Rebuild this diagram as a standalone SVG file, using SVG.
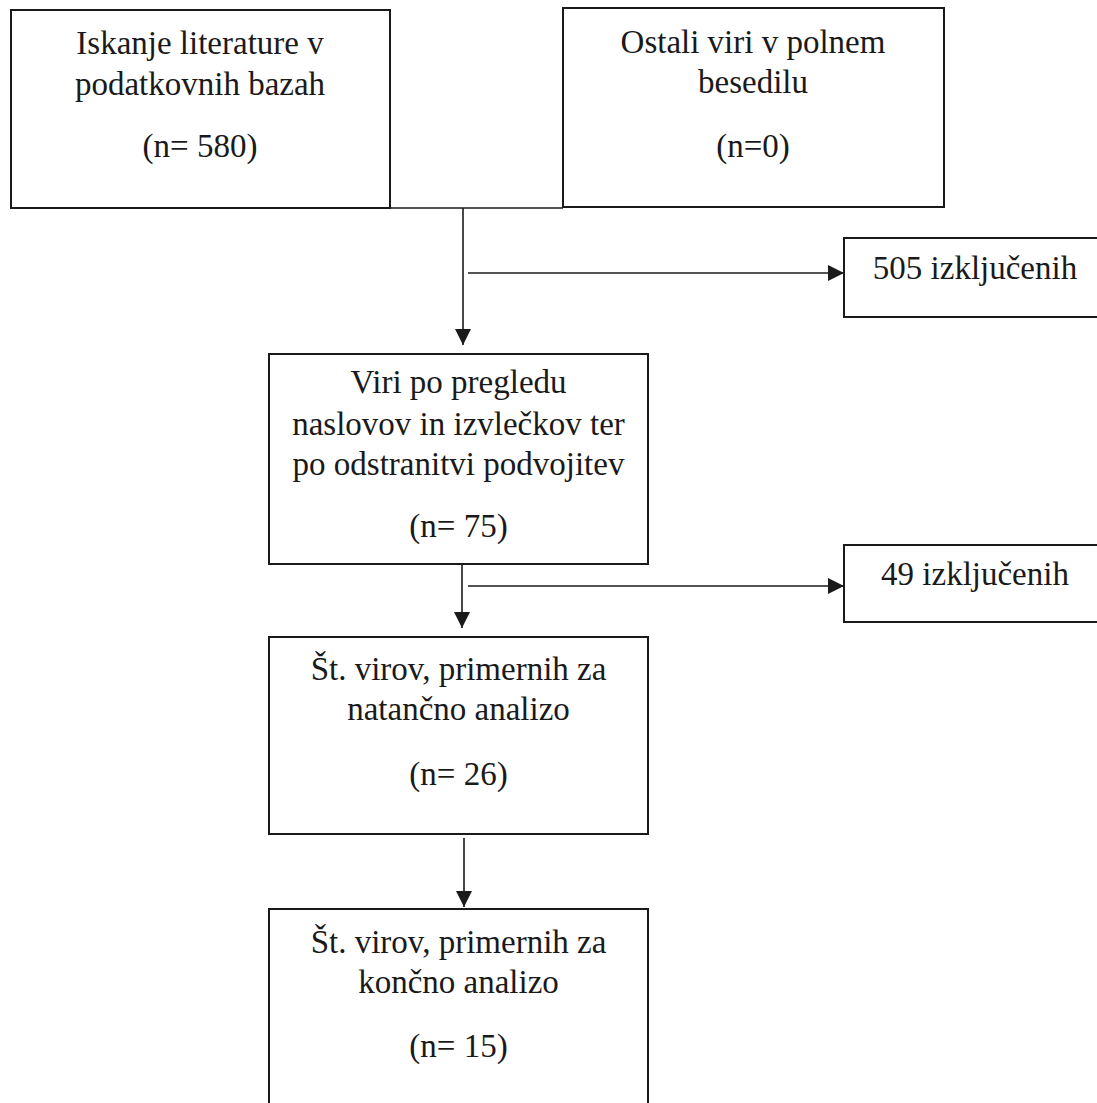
<svg xmlns="http://www.w3.org/2000/svg" width="1097" height="1103" viewBox="0 0 1097 1103">
  <style>
    .box { fill: #ffffff; stroke: #1a1a1a; stroke-width: 2; }
    .con { fill: none; stroke: #1a1a1a; stroke-width: 1.6; }
    text { font-family: "Liberation Serif", "Times New Roman", serif; font-size: 33px; fill: #1a1a1a; text-anchor: middle; }
  </style>
  <defs>
    <marker id="arrow" markerUnits="userSpaceOnUse" markerWidth="16" markerHeight="16" refX="16" refY="8" orient="auto">
      <path d="M0,0 L16,8 L0,16 Z" fill="#1a1a1a"/>
    </marker>
  </defs>
  <rect width="1097" height="1103" fill="#ffffff"/>

  <g id="connectors">
    <line class="con" x1="390" y1="208" x2="563" y2="208"/>
    <line class="con" x1="463" y1="208" x2="463" y2="345" marker-end="url(#arrow)"/>
    <line class="con" x1="468" y1="273" x2="844" y2="273" marker-end="url(#arrow)"/>
    <line class="con" x1="462" y1="552" x2="462" y2="628" marker-end="url(#arrow)"/>
    <line class="con" x1="468" y1="586" x2="844" y2="586" marker-end="url(#arrow)"/>
    <line class="con" x1="464" y1="838" x2="464" y2="907" marker-end="url(#arrow)"/>
  </g>

  <g id="node-search">
    <rect class="box" x="11" y="10" width="379" height="198"/>
    <text x="200" y="54">Iskanje literature v</text>
    <text x="200" y="95">podatkovnih bazah</text>
    <text x="200" y="157">(n= 580)</text>
  </g>

  <g id="node-other">
    <rect class="box" x="563" y="8" width="381" height="199"/>
    <text x="753" y="53">Ostali viri v polnem</text>
    <text x="753" y="93">besedilu</text>
    <text x="753" y="157">(n=0)</text>
  </g>

  <g id="node-excluded-505">
    <rect class="box" x="844" y="238" width="270" height="79"/>
    <text x="975" y="279">505 izključenih</text>
  </g>

  <g id="node-screened">
    <rect class="box" x="269" y="354" width="379" height="210"/>
    <text x="458.5" y="393">Viri po pregledu</text>
    <text x="458.5" y="435">naslovov in izvlečkov ter</text>
    <text x="458.5" y="475">po odstranitvi podvojitev</text>
    <text x="458.5" y="537">(n= 75)</text>
  </g>

  <g id="node-excluded-49">
    <rect class="box" x="844" y="545" width="270" height="77"/>
    <text x="975" y="585">49 izključenih</text>
  </g>

  <g id="node-detailed">
    <rect class="box" x="269" y="637" width="379" height="197"/>
    <text x="458.5" y="680">Št. virov, primernih za</text>
    <text x="458.5" y="720">natančno analizo</text>
    <text x="458.5" y="785">(n= 26)</text>
  </g>

  <g id="node-final">
    <rect class="box" x="269" y="909" width="379" height="230"/>
    <text x="458.5" y="953">Št. virov, primernih za</text>
    <text x="458.5" y="993">končno analizo</text>
    <text x="458.5" y="1057">(n= 15)</text>
  </g>
</svg>
